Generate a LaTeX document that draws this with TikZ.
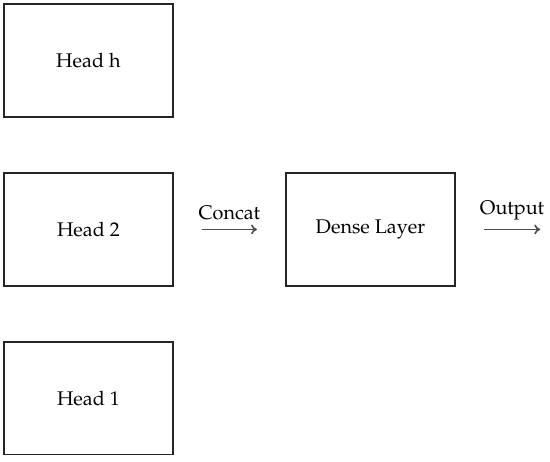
\documentclass[tikz,border=0pt]{standalone}
\usepackage[T1]{fontenc}
\usepackage{mathpazo}
\usepackage{tikz}
\usetikzlibrary{arrows.meta}
\usetikzlibrary{calc}

\begin{document}
\begin{tikzpicture}
\tikzstyle{block}=[draw=black!85, line width=0.9pt, minimum width=3cm, minimum height=2cm]
\tikzstyle{flow}=[black!70, line width=0.8pt, -{To[length=3pt,width=5pt]}]
\useasboundingbox (0,0) rectangle (9.77,-8.19);
\node [block] (headh) at (1.57,-1.075) {Head h};
\node [block] (head2) at (1.57,-4.075) {Head 2};
\node [block] (head1) at (1.57,-7.075) {Head 1};
\node [block] (dense) at (6.58,-4.075) {Dense Layer};
\draw [flow] ($(head2.east)+(0.5cm,0)$) -- ($(dense.west)+(-0.5cm,0)$) node[midway, above, yshift=1.2pt, text=black] {Concat};
\coordinate (out) at ($(dense.east)+(1.5cm,0)$);
\draw [flow] ($(dense.east)+(0.5cm,0)$) -- (out) node[midway, above, yshift=1.2pt, text=black] {Output};
\end{tikzpicture}
\end{document}
